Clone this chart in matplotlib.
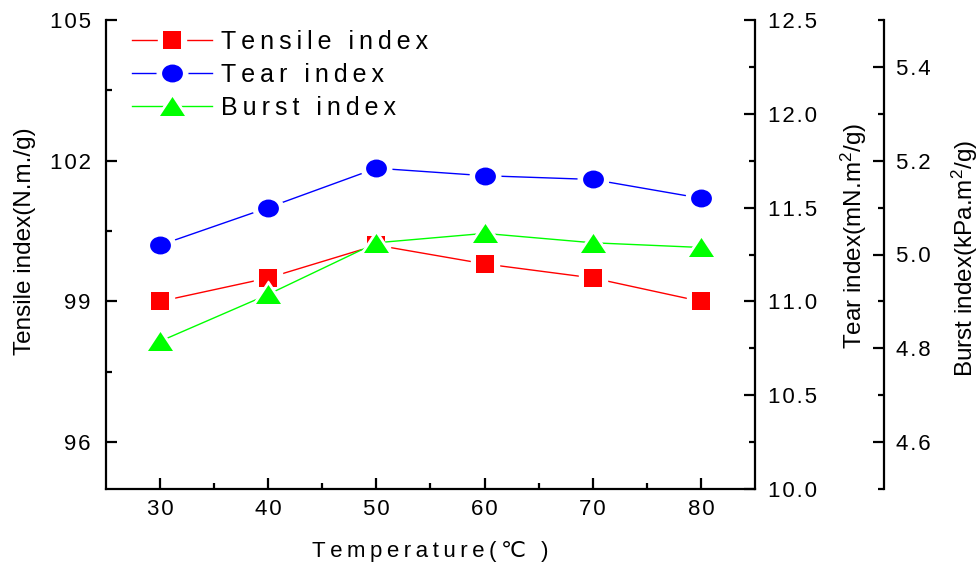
import matplotlib
matplotlib.use("Agg")
import matplotlib.pyplot as plt
from matplotlib.path import Path
from matplotlib.legend_handler import HandlerTuple
from matplotlib.ticker import FuncFormatter

plt.rcParams['font.family'] = ['Liberation Sans', 'DejaVu Sans']
plt.rcParams['mathtext.default'] = 'regular'

temperature = [30, 40, 50, 60, 70, 80]
tensile = [99.0, 99.5, 100.2, 99.8, 99.5, 99.0]
tear = [11.30, 11.50, 11.71, 11.67, 11.65, 11.55]
burst = [4.815, 4.915, 5.025, 5.045, 5.025, 5.015]

series_names = ["Tensile index", "Tear index", "Burst index"]

HAIR = "\u200a"
THIN = "\u2009"


def spaced(s, sep=HAIR):
    # origin-style letter spacing
    return sep.join(s)


def tick_fmt(dec):
    return FuncFormatter(lambda v, p: spaced(f"{v:.{dec}f}"))


# marker shapes: slightly flat ellipse and wide triangle like the original
ellipse = Path(Path.unit_circle().vertices * [1.0, 0.86], Path.unit_circle().codes)
wide_tri = [(-1, -0.76), (1, -0.76), (0, 0.76), (-1, -0.76)]

fig = plt.figure(figsize=(9.8, 5.62), dpi=100)
ax = fig.add_axes([106 / 980, 1 - 489 / 562, 649 / 980, 469 / 562])
ax2 = ax.twinx()
ax3 = ax.twinx()
ax3.spines['right'].set_position(('axes', 778 / 649))


def draw(a, y, color, marker, ms):
    line, = a.plot(temperature, y, color=color, lw=1.0, zorder=1)
    halo, = a.plot(temperature, y, ls='none', marker=marker, ms=ms + 7,
                   color='white', mec='white', zorder=2)
    mk, = a.plot(temperature, y, ls='none', marker=marker, ms=ms,
                 color=color, mec=color, mew=0, zorder=3)
    return (line, halo, mk)


h1 = draw(ax, tensile, '#ff0000', 's', 13)
h2 = draw(ax2, tear, '#0000ff', ellipse, 15)
h3 = draw(ax3, burst, '#00ff00', wide_tri, 18)

ax.set_xlim(25, 85)
ax.set_ylim(95, 105)
ax2.set_ylim(10.0, 12.5)
ax3.set_ylim(4.5, 5.5)

ax.set_xticks(temperature)
ax.set_xticks([35, 45, 55, 65, 75], minor=True)
ax.set_yticks([96, 99, 102, 105])
ax.set_yticks([97.5, 100.5, 103.5], minor=True)
ax2.set_yticks([10.0, 10.5, 11.0, 11.5, 12.0, 12.5])
ax2.set_yticks([10.25, 10.75, 11.25, 11.75, 12.25], minor=True)
ax3.set_yticks([4.6, 4.8, 5.0, 5.2, 5.4])
ax3.set_yticks([4.5, 4.7, 4.9, 5.1, 5.3, 5.5], minor=True)

ax.xaxis.set_major_formatter(tick_fmt(0))
ax.yaxis.set_major_formatter(tick_fmt(0))
ax2.yaxis.set_major_formatter(tick_fmt(1))
ax3.yaxis.set_major_formatter(tick_fmt(1))

for a in (ax, ax2, ax3):
    for s in a.spines.values():
        s.set_visible(False)
        s.set_linewidth(1.6)
    a.tick_params(which='both', direction='in', width=1.6, labelsize=16,
                  colors='black')
    a.tick_params(which='major', length=8)
    a.tick_params(which='minor', length=4.5)

ax.spines['left'].set_visible(True)
ax.spines['bottom'].set_visible(True)
ax2.spines['right'].set_visible(True)
ax3.spines['right'].set_visible(True)
ax.tick_params(axis='y', pad=11)
ax.tick_params(axis='x', pad=7)
ax2.tick_params(axis='y', pad=9)
ax3.tick_params(axis='y', pad=9)

ax.set_xlabel(spaced("Temperature(℃ )", THIN), fontsize=16)
ax.xaxis.set_label_coords(0.5, -(551 - 489) / 469)
ax.xaxis.label.set_va('center')

ax.set_ylabel("Tensile index(N.m./g)", fontsize=17.5, va='center')
ax.yaxis.set_label_coords((25 - 106) / 649, (489 - 241) / 469)
ax2.set_ylabel("Tear index(mN.m$^2$/g)", fontsize=17.5, va='center')
ax2.yaxis.set_label_coords((854 - 106) / 649, (489 - 236) / 469)
ax3.set_ylabel("Burst index(kPa.m$^2$/g)", fontsize=17.5, va='center')
ax3.yaxis.set_label_coords((965 - 106) / 649, (489 - 258) / 469)

leg = ax3.legend([h1, h2, h3], [spaced(n, THIN) for n in series_names],
                 handler_map={tuple: HandlerTuple(ndivide=1)},
                 loc='upper left', bbox_to_anchor=(16 / 649, 1),
                 frameon=False, fontsize=18, handlelength=3.2,
                 handletextpad=0.35, labelspacing=0.35, borderaxespad=0,
                 numpoints=1)

fig.savefig("out.png", dpi=100)
